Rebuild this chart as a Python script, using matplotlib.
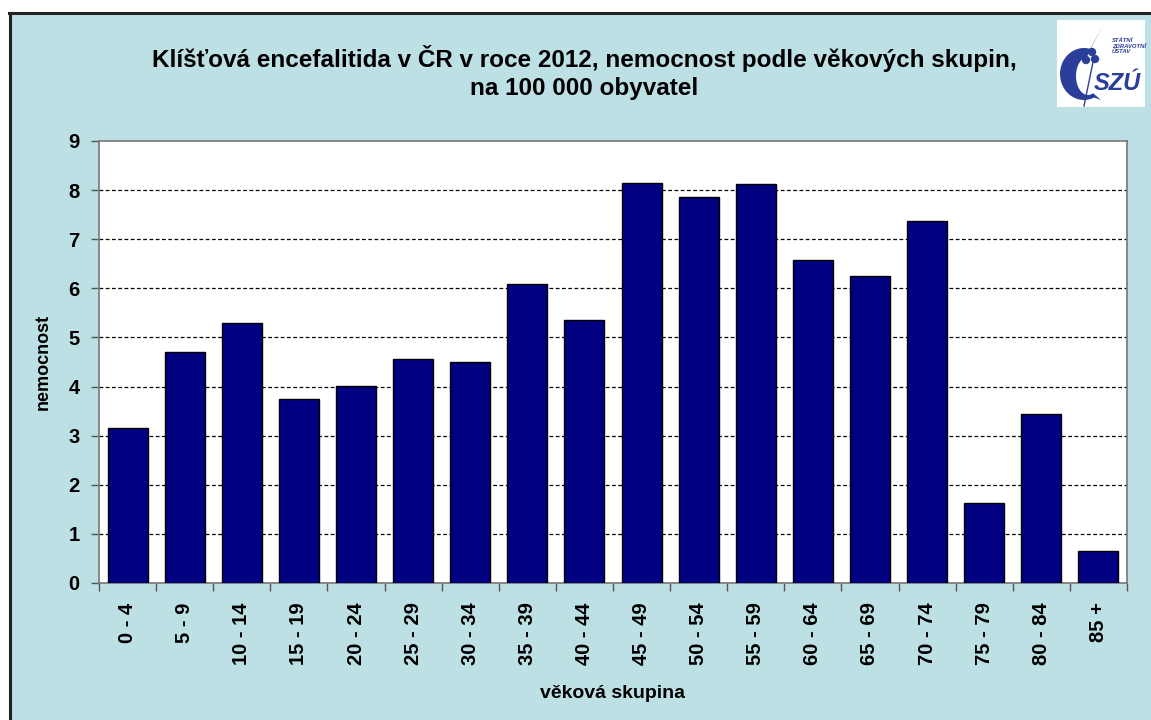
import matplotlib.pyplot as plt
import numpy as np
from matplotlib.patches import Rectangle, Polygon, Circle

plt.rcParams['font.family'] = ['Liberation Sans', 'DejaVu Sans']

age_groups = ['0 - 4', '5 - 9', '10 - 14', '15 - 19', '20 - 24', '25 - 29',
              '30 - 34', '35 - 39', '40 - 44', '45 - 49', '50 - 54', '55 - 59',
              '60 - 64', '65 - 69', '70 - 74', '75 - 79', '80 - 84', '85 +']
incidence = [3.16, 4.70, 5.30, 3.75, 4.01, 4.56, 4.50, 6.09, 5.36,
             8.15, 7.86, 8.13, 6.58, 6.25, 7.37, 1.63, 3.44, 0.65]

bg = '#bde0e4'

fig = plt.figure(figsize=(11.51, 7.2), dpi=100)
fig.patch.set_facecolor('white')

# light blue panel with a black frame on top/left
W, H = 1151, 720
fig.patches.append(Rectangle((10 / W, 0), 1 - 10 / W, 1 - 14 / H, transform=fig.transFigure,
                             facecolor=bg, edgecolor='none', zorder=-5))
fig.add_artist(plt.Line2D([10 / W, 10 / W], [0, 1 - 13 / H], transform=fig.transFigure,
                          color='#222222', lw=2.2, zorder=-4))
fig.add_artist(plt.Line2D([9 / W, 1], [1 - 13 / H, 1 - 13 / H], transform=fig.transFigure,
                          color='#222222', lw=2.2, zorder=-4))

ax = fig.add_axes([99 / W, 1 - 583 / H, (1127 - 99) / W, (583 - 141) / H])
ax.set_facecolor('white')

x = np.arange(len(age_groups))
ax.bar(x, incidence, width=0.7, color='#000080', edgecolor='black', linewidth=1, zorder=3)

ax.set_xlim(-0.5, len(age_groups) - 0.5)
ax.set_ylim(0, 9)
ax.set_yticks(range(10))
ax.set_yticklabels([str(i) for i in range(10)], fontsize=14.5, fontweight='bold')
for yv in range(1, 9):
    ax.axhline(yv, color='black', lw=0.9, ls=(0, (3, 2)), zorder=1)

# category boundaries as ticks, labels in the middle
ax.set_xticks(np.arange(len(age_groups) + 1) - 0.5)
ax.set_xticklabels([])
ax.set_xticks(x, minor=True)
ax.set_xticklabels(age_groups, minor=True, rotation=90, fontsize=14.5, fontweight='bold')
ax.tick_params(axis='x', which='minor', length=0, pad=14)
ax.tick_params(axis='x', which='major', length=6, width=1, color='#555555', direction='out')
ax.tick_params(axis='y', length=6, width=1, color='#555555', pad=8)

for s in ax.spines.values():
    s.set_color('#777777')
    s.set_linewidth(1.2)

ax.set_ylabel('nemocnost', fontsize=13, fontweight='bold', labelpad=12)
ax.set_xlabel('věková skupina', fontsize=14, fontweight='bold', labelpad=14)

fig.text(584 / W, 1 - 58 / H, 'Klíšťová encefalitida v ČR v roce 2012, nemocnost podle věkových skupin,',
         ha='center', va='center', fontsize=17.5, fontweight='bold')
fig.text(584 / W, 1 - 88 / H, 'na 100 000 obyvatel',
         ha='center', va='center', fontsize=17.5, fontweight='bold')

# SZÚ logo in the top right corner
lx0, ly0, lw, lh = 1057, 20, 88, 87
lax = fig.add_axes([lx0 / W, 1 - (ly0 + lh) / H, lw / W, lh / H])
lax.set_xlim(0, lw)
lax.set_ylim(lh, 0)
lax.set_facecolor('white')
lax.set_xticks([])
lax.set_yticks([])
for s in lax.spines.values():
    s.set_visible(False)
logo_blue = '#2a3e9a'

# crescent "C" with a tail sweeping up to the right
t_out = np.radians(np.linspace(75, 295, 40))
t_in = np.radians(np.linspace(295, 95, 40))
outer = np.column_stack([27 + 24 * np.cos(t_out), 54 - 26 * np.sin(t_out)])
inner = np.column_stack([31 + 12 * np.cos(t_in), 56 - 19 * np.sin(t_in)])
crescent = np.vstack([[[47, 4]], outer, [[44, 80]], inner, [[33, 30]]])
lax.add_patch(Polygon(crescent, closed=True, facecolor=logo_blue, edgecolor='none'))

lax.plot([36, 27], [42, 86], color=logo_blue, lw=1)
for cx, cy in [(29, 40), (38, 39), (35, 32)]:
    lax.add_patch(Circle((cx, cy), 4.2, facecolor=logo_blue, edgecolor='none'))
lax.text(55, 26, 'STÁTNÍ\nZDRAVOTNÍ\nÚSTAV', fontsize=4.2, fontweight='bold',
         color=logo_blue, ha='left', va='center', linespacing=1.2, style='italic')
lax.text(60, 64, 'SZÚ', fontsize=17, fontweight='bold', color=logo_blue,
         ha='center', va='center', style='italic')

fig.savefig('out.png', dpi=100, facecolor=fig.get_facecolor())
